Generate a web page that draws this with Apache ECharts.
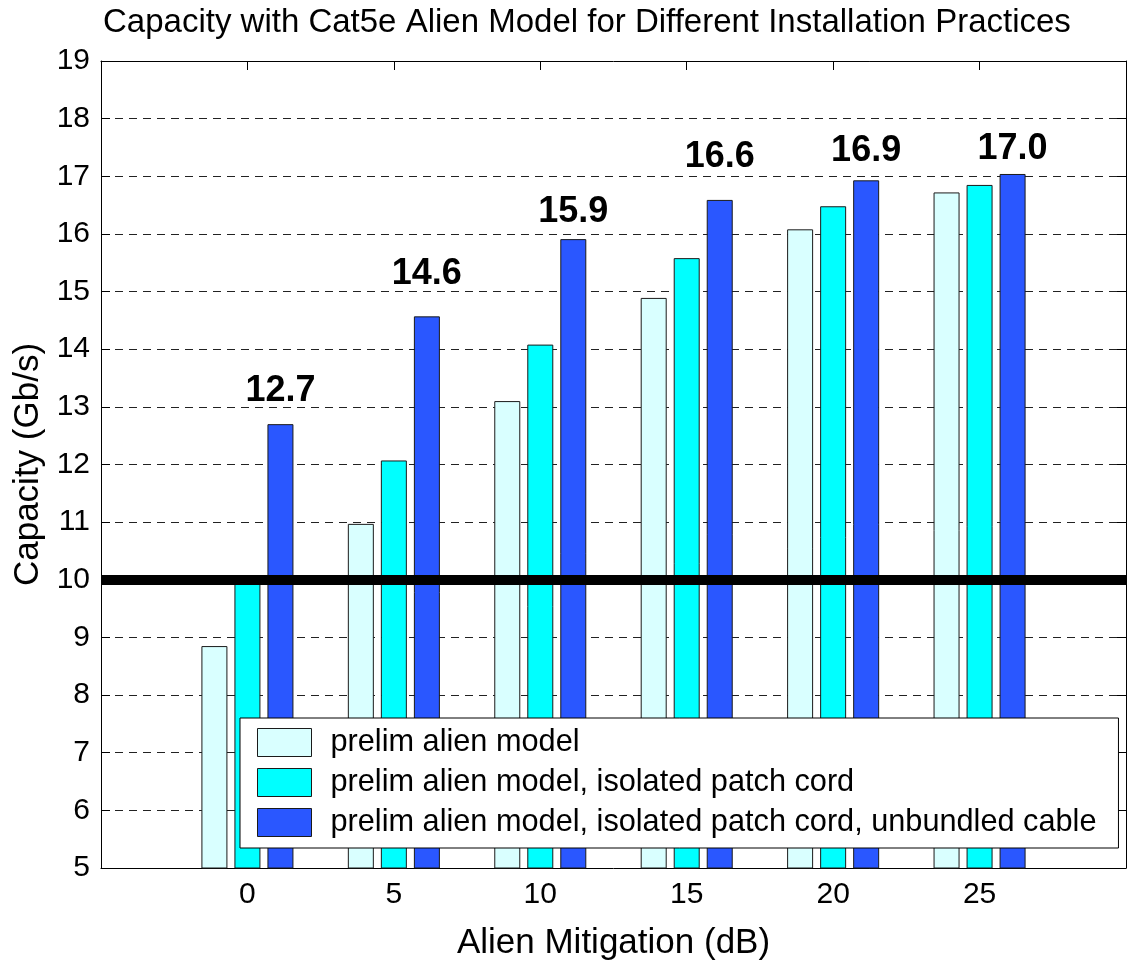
<!DOCTYPE html>
<html>
<head>
<meta charset="utf-8">
<script src="https://cdn.jsdelivr.net/npm/echarts@6/dist/echarts.min.js"></script>
<style>
html,body{margin:0;padding:0;background:#fff;overflow:hidden;width:1128px;height:962px;}
#chart{width:1128px;height:962px;}
</style>
</head>
<body>
<div id="chart"></div>
<script>
// ---- data ----
const categories = [0, 5, 10, 15, 20, 25];
const seriesNames = [
  'prelim alien model',
  'prelim alien model, isolated patch cord',
  'prelim alien model, isolated patch cord, unbundled cable'
];
const prelim = [8.85, 10.97, 13.10, 14.89, 16.08, 16.72];
const isolated = [10.0, 12.07, 14.08, 15.58, 16.48, 16.85];
const unbundled = [12.70, 14.57, 15.91, 16.59, 16.93, 17.04];
const annotationY = [13.28, 15.31, 16.38, 17.33, 17.43, 17.48];
const threshold = 10;
const yTicks = [5, 19, 1];
const xRange = [-5, 30, 5];

const FONT = '"Liberation Sans", Arial, Helvetica, sans-serif';
const colors = ['#d9ffff', '#00ffff', '#2a57ff'];
const values = [prelim, isolated, unbundled];

const chart = echarts.init(document.getElementById('chart'), null, {renderer: 'canvas', width: 1128, height: 962});

const barSeries = values.map((vals, i) => ({
  name: seriesNames[i],
  type: 'bar',
  xAxisIndex: 0,
  yAxisIndex: 0,
  barWidth: 26,
  barGap: '27%',
  data: categories.map((c, j) => [c, vals[j]]),
  itemStyle: {color: colors[i], borderColor: '#1a1a1a', borderWidth: 1},
  emphasis: {disabled: true},
  z: 2
}));

barSeries[2].markLine = {
  silent: true,
  symbol: ['none', 'none'],
  label: {show: false},
  lineStyle: {color: '#000', width: 10, type: 'solid'},
  data: [{yAxis: threshold}],
  z: 5
};

const labelSeries = {
  type: 'scatter',
  xAxisIndex: 0,
  yAxisIndex: 0,
  symbol: 'rect',
  symbolSize: 0,
  itemStyle: {color: '#000', opacity: 1},
  silent: true,
  emphasis: {disabled: true},
  z: 6,
  data: categories.map((c, j) => [c, annotationY[j], unbundled[j]]),
  label: {
    show: true,
    position: 'inside',
    offset: [33, 0],
    formatter: p => p.data[2].toFixed(1),
    fontFamily: FONT,
    fontSize: 36,
    fontWeight: 'bold',
    color: '#000',
    opacity: 1,
    textBorderWidth: 0
  }
};

const option = {
  backgroundColor: '#fff',
  animation: false,
  title: {
    text: 'Capacity with Cat5e Alien Model for Different Installation Practices',
    left: 103,
    top: 6,
    padding: 0,
    textStyle: {fontFamily: FONT, fontSize: 33, fontWeight: 'normal', color: '#000'}
  },
  legend: {
    orient: 'vertical',
    left: 240,
    top: 718,
    padding: [9, 22, 10, 17],
    itemWidth: 54,
    itemHeight: 28,
    itemGap: 9,
    icon: 'rect',
    backgroundColor: '#fff',
    borderColor: '#000',
    borderWidth: 1,
    selectedMode: false,
    data: seriesNames,
    itemStyle: {borderColor: '#1a1a1a', borderWidth: 1},
    textStyle: {fontFamily: FONT, fontSize: 30.7, color: '#000', lineHeight: 30, padding: [0, 0, 0, 14]}
  },
  grid: {left: 101, right: 2, top: 61, bottom: 94, containLabel: false, outerBoundsMode: 'none'},
  xAxis: [
    {
      type: 'value',
      min: xRange[0], max: xRange[1], interval: xRange[2],
      name: 'Alien Mitigation (dB)',
      nameLocation: 'middle',
      nameGap: 58,
      nameTextStyle: {fontFamily: FONT, fontSize: 35, color: '#000'},
      axisLine: {show: true, onZero: false, lineStyle: {color: '#000', width: 1}},
      axisTick: {show: true, inside: true, length: 9, lineStyle: {color: '#000'}},
      axisLabel: {
        fontFamily: FONT, fontSize: 30, color: '#000', margin: 12,
        formatter: v => (v < categories[0] || v > categories[categories.length - 1]) ? '' : String(v)
      },
      splitLine: {show: false}
    },
    {
      type: 'value',
      position: 'top',
      min: xRange[0], max: xRange[1], interval: xRange[2],
      axisLine: {show: true, onZero: false, lineStyle: {color: '#000', width: 1}},
      axisTick: {show: true, inside: true, length: 9, lineStyle: {color: '#000'}},
      axisLabel: {show: false},
      splitLine: {show: false}
    }
  ],
  yAxis: [
    {
      type: 'value',
      min: yTicks[0], max: yTicks[1], interval: yTicks[2],
      name: 'Capacity (Gb/s)',
      nameLocation: 'middle',
      nameGap: 55,
      nameTextStyle: {fontFamily: FONT, fontSize: 35, color: '#000'},
      axisLine: {show: true, onZero: false, lineStyle: {color: '#000', width: 1}},
      axisTick: {show: true, inside: true, length: 9, lineStyle: {color: '#000'}},
      axisLabel: {fontFamily: FONT, fontSize: 30, color: '#000', margin: 11},
      splitLine: {show: true, lineStyle: {color: '#222', width: 1, type: [8, 6]}}
    },
    {
      type: 'value',
      position: 'right',
      min: yTicks[0], max: yTicks[1], interval: yTicks[2],
      axisLine: {show: true, onZero: false, lineStyle: {color: '#000', width: 1}},
      axisTick: {show: true, inside: true, length: 9, lineStyle: {color: '#000'}},
      axisLabel: {show: false},
      splitLine: {show: false}
    }
  ],
  series: [...barSeries, labelSeries]
};

chart.setOption(option);
</script>
</body>
</html>
